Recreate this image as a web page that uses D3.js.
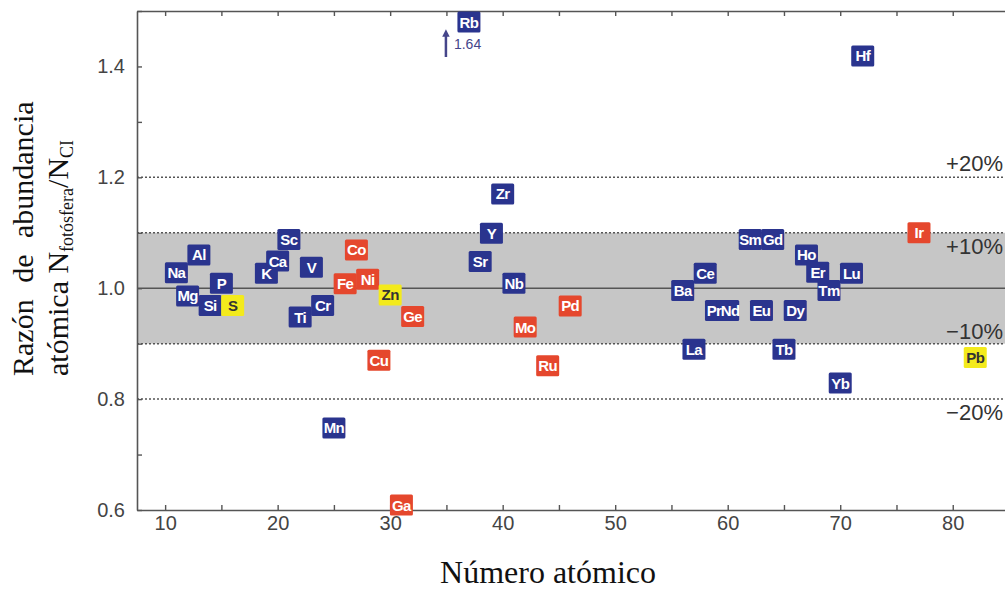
<!DOCTYPE html>
<html>
<head>
<meta charset="utf-8">
<script src="https://cdn.jsdelivr.net/npm/d3@7"></script>
<style>
    body { margin: 0; background: #fff; }
    .tick text { font-family: "Liberation Sans", Arial, sans-serif; font-size: 20px; fill: #444; }
    .axis .domain { stroke: #555; stroke-width: 1.6; }
    .axis .tick line { stroke: #555; stroke-width: 1.4; }
    .axisTitle { font-family: "Liberation Serif", "Times New Roman", serif; fill: #111; }
    .pctLabel { font-family: "Liberation Sans", Arial, sans-serif; font-size: 22px; fill: #333; }
    .elem text { font-family: "Liberation Sans", Arial, sans-serif; font-size: 15px; font-weight: bold; }
</style>
</head>
<body>
<div id="chart"></div>
<script>

// element symbols, atomic numbers and photosphere / CI abundance ratios
let symbols = ["Na","Mg","Al","Si","P","S","K","Ca","Sc","Ti","V","Cr","Mn","Fe","Co","Ni","Cu","Zn","Ga","Ge",
    "Rb","Sr","Y","Zr","Nb","Mo","Ru","Pd","Ba","La","Ce","Pr","Nd","Sm","Eu","Gd","Tb","Dy","Ho","Er","Tm","Yb","Lu","Hf","Ir","Pb"];
let atomicNumbers = [11,12,13,14,15,16,19,20,21,22,23,24,25,26,27,28,29,30,31,32,
    37,38,39,40,41,42,44,46,56,57,58,59,60,62,63,64,65,66,67,68,69,70,71,72,77,82];
let ratios = [1.028,0.986,1.060,0.969,1.009,0.969,1.027,1.049,1.088,0.948,1.038,0.969,0.748,1.008,1.069,1.016,0.870,0.988,0.609,0.949,
    1.64,1.048,1.099,1.170,1.009,0.930,0.860,0.968,0.996,0.890,1.027,0.960,0.960,1.088,0.960,1.088,0.890,0.960,1.060,1.029,0.996,0.829,1.027,1.419,1.100,0.875];
let groups = ["lito","lito","lito","lito","lito","calco","lito","lito","lito","lito","lito","lito","lito","sidero","sidero","sidero","sidero","calco","sidero","sidero",
    "lito","lito","lito","lito","lito","sidero","sidero","sidero","lito","lito","lito","lito","lito","lito","lito","lito","lito","lito","lito","lito","lito","lito","lito","lito","sidero","calco"];

// axis ticks
let xTicks = [10,15,20,25,30,35,40,45,50,55,60,65,70,75,80,85];
let yTicks = [0.6,0.7,0.8,0.9,1.0,1.1,1.2,1.3,1.4,1.5];
let yLabelTicks = [0.6,0.8,1.0,1.2,1.4];

// reference lines and their labels
let bandLimits = [0.9, 1.1];
let dottedLevels = [1.2, 1.1, 0.9, 0.8];
let pctLabels = ["+20%", "+10%", "\u221210%", "\u221220%"];


class AbundancePlot {

    constructor(parentElement) {
        this.parentElement = parentElement;
        this.data = symbols.map((s, i) => ({
            symbol: s, z: atomicNumbers[i], ratio: ratios[i], group: groups[i]
        }));
        this.initVis();
    }

    initVis() {
        let vis = this;

        vis.width = 1005;
        vis.height = 590;

        vis.svg = d3.select("#" + vis.parentElement).append("svg")
            .attr("width", vis.width)
            .attr("height", vis.height);

        // scales (plot frame runs slightly past the right edge of the picture)
        vis.x = d3.scaleLinear().domain([7.5, 85]).range([137, 1009]);
        vis.y = d3.scaleLinear().domain([0.6, 1.5]).range([510, 11]);

        vis.colors = {lito: "#2a348e", sidero: "#e5472d", calco: "#f3ea1c"};
        vis.textColors = {lito: "#fff", sidero: "#fff", calco: "#333"};

        vis.updateVis();
    }

    updateVis() {
        let vis = this;
        let x0 = vis.x.range()[0], x1 = vis.x.range()[1];

        // grey +/-10% band
        vis.svg.append("rect")
            .attr("x", x0)
            .attr("width", x1 - x0)
            .attr("y", vis.y(bandLimits[1]))
            .attr("height", vis.y(bandLimits[0]) - vis.y(bandLimits[1]))
            .attr("fill", "#c6c6c6");

        // dotted lines at +-10% and +-20%
        vis.svg.selectAll(".dotLine")
            .data(dottedLevels)
            .enter().append("line")
            .attr("class", "dotLine")
            .attr("x1", x0).attr("x2", x1)
            .attr("y1", d => vis.y(d)).attr("y2", d => vis.y(d))
            .attr("stroke", "#555")
            .attr("stroke-width", 1.5)
            .attr("stroke-dasharray", "2,2");

        // unity line
        vis.svg.append("line")
            .attr("x1", x0).attr("x2", x1)
            .attr("y1", vis.y(1)).attr("y2", vis.y(1))
            .attr("stroke", "#555")
            .attr("stroke-width", 1.6);

        // percent labels at right
        let pctY = [vis.y(1.2) - 6, vis.y(1.1) + 21, vis.y(0.9) - 5, vis.y(0.8) + 21];
        vis.svg.selectAll(".pctLabel")
            .data(pctLabels)
            .enter().append("text")
            .attr("class", "pctLabel")
            .attr("x", 1003)
            .attr("y", (d, i) => pctY[i])
            .attr("text-anchor", "end")
            .text(d => d);

        // axes, ticks pointing inward
        vis.svg.append("g")
            .attr("class", "axis axis--x")
            .attr("transform", "translate(0," + vis.y(0.6) + ")")
            .call(d3.axisBottom(vis.x).tickValues(xTicks).tickSizeInner(-5).tickSizeOuter(0).tickPadding(6)
                .tickFormat(d => d % 10 === 0 ? d : ""));

        vis.svg.append("g")
            .attr("class", "axis axis--top")
            .attr("transform", "translate(0," + vis.y(1.5) + ")")
            .call(d3.axisTop(vis.x).tickValues(xTicks).tickSizeInner(-5).tickSizeOuter(0).tickFormat(""));

        vis.svg.append("g")
            .attr("class", "axis axis--y")
            .attr("transform", "translate(" + x0 + ",0)")
            .call(d3.axisLeft(vis.y).tickValues(yTicks).tickSizeInner(-5).tickSizeOuter(0).tickPadding(12)
                .tickFormat(d => yLabelTicks.some(t => Math.abs(t - d) < 1e-6) ? d3.format(".1f")(d) : ""));

        // element boxes (Rb is off the scale: drawn at the top with an arrow)
        let top = 1.48;
        let elems = vis.svg.append("g").attr("class", "elem");

        elems.selectAll("rect")
            .data(vis.data)
            .enter().append("rect")
            .attr("x", d => vis.x(d.z) - 11.5)
            .attr("y", d => vis.y(Math.min(d.ratio, top)) - 10.5)
            .attr("width", 23)
            .attr("height", 21)
            .attr("rx", 1.5)
            .attr("fill", d => vis.colors[d.group]);

        // labels of neighbours sharing a row are pushed apart a little
        let nudge = d => {
            let side = 0;
            vis.data.forEach(o => {
                if (Math.abs(o.ratio - d.ratio) < 0.005 && Math.abs(o.z - d.z) === 1) side += (d.z - o.z) * 2.5;
            });
            return side;
        };

        elems.selectAll("text")
            .data(vis.data)
            .enter().append("text")
            .attr("x", d => vis.x(d.z) + nudge(d))
            .attr("y", d => vis.y(Math.min(d.ratio, top)) + 5.5)
            .attr("text-anchor", "middle")
            .attr("fill", d => vis.textColors[d.group])
            .attr("letter-spacing", "-0.6")
            .text(d => d.symbol);

        // arrow + true value for Rb
        let rb = vis.data.find(d => d.ratio > top);
        let ax = vis.x(rb.z) - 23;
        vis.svg.append("defs").append("marker")
            .attr("id", "arrowHead")
            .attr("viewBox", "0 0 10 10")
            .attr("refX", 5).attr("refY", 5)
            .attr("markerWidth", 3).attr("markerHeight", 3)
            .attr("orient", "auto")
            .append("path")
            .attr("d", "M0,0 L10,5 L0,10 z")
            .attr("fill", "#45458a");
        vis.svg.append("line")
            .attr("x1", ax).attr("x2", ax)
            .attr("y1", 57).attr("y2", 33)
            .attr("stroke", "#45458a")
            .attr("stroke-width", 2.5)
            .attr("marker-end", "url(#arrowHead)");
        vis.svg.append("text")
            .attr("x", ax + 8)
            .attr("y", 49)
            .attr("font-family", "Liberation Sans, Arial, sans-serif")
            .attr("font-size", 14)
            .attr("fill", "#45458a")
            .text(d3.format(".2f")(rb.ratio));

        // axis titles
        vis.svg.append("text")
            .attr("class", "axisTitle")
            .attr("x", 548)
            .attr("y", 583)
            .attr("text-anchor", "middle")
            .attr("font-size", 32)
            .text("Número atómico");

        vis.svg.append("text")
            .attr("class", "axisTitle")
            .attr("transform", "translate(33,376) rotate(-90)")
            .attr("font-size", 30)
            .style("word-spacing", "9px")
            .text("Razón de abundancia");

        let t2 = vis.svg.append("text")
            .attr("class", "axisTitle")
            .attr("transform", "translate(68,376) rotate(-90)")
            .attr("font-size", 30);
        t2.append("tspan").text("atómica N");
        t2.append("tspan").attr("font-size", 18).attr("dy", 5).text("fotósfera");
        t2.append("tspan").attr("dy", -5).text("/N");
        t2.append("tspan").attr("font-size", 18).attr("dy", 5).text("CI");
    }
}

let myPlot = new AbundancePlot("chart");
</script>
</body>
</html>
